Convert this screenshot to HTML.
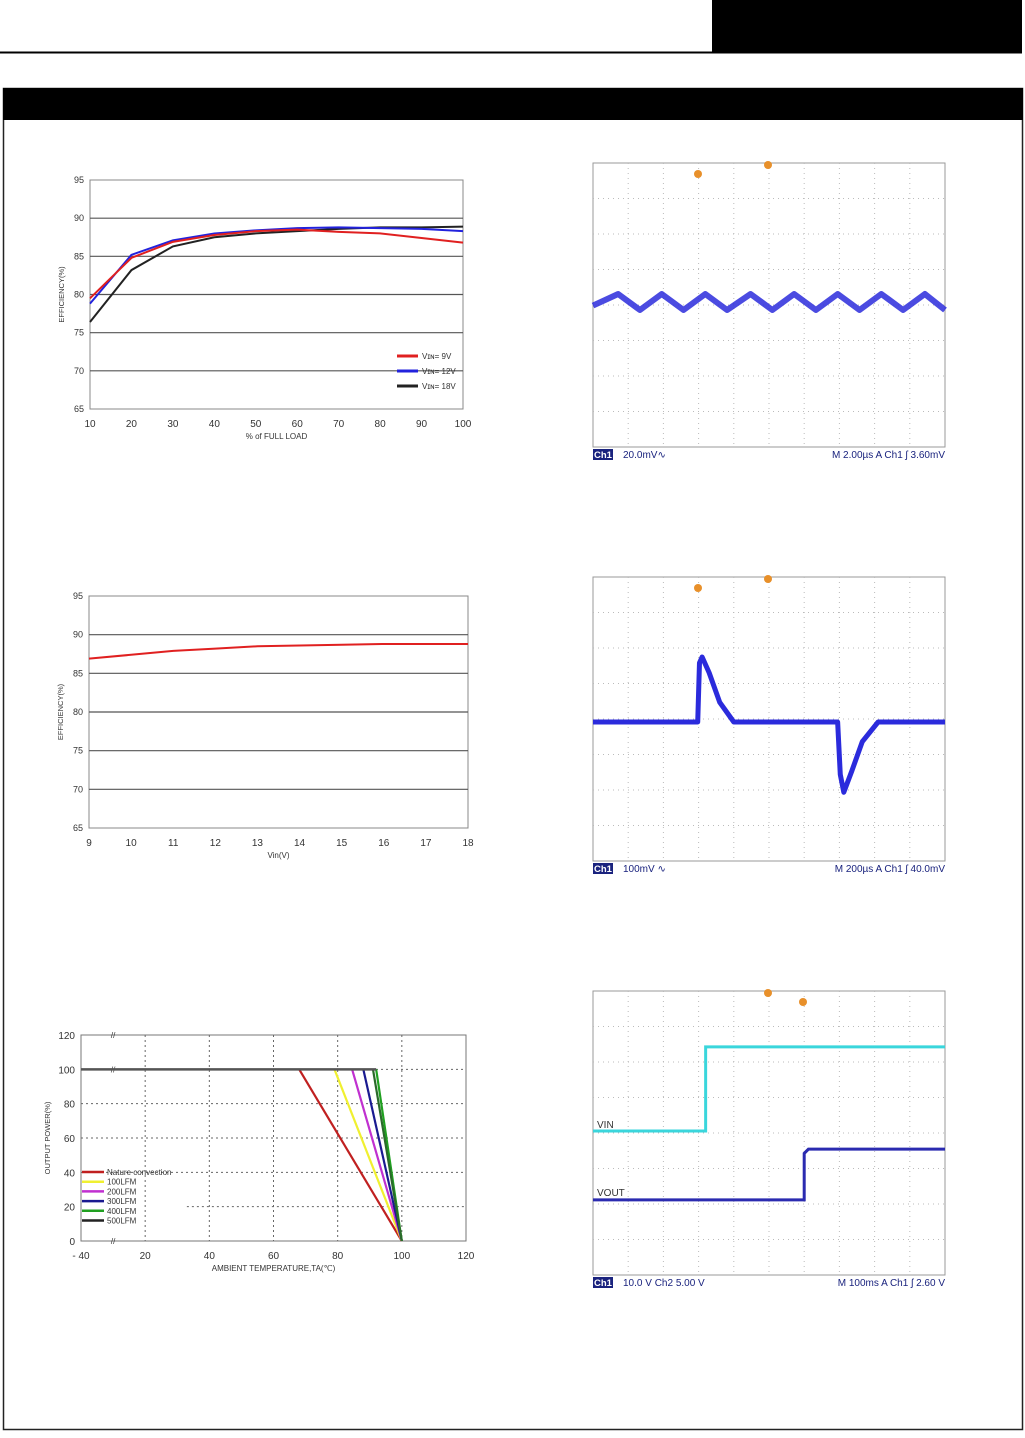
<!DOCTYPE html>
<html><head><meta charset="utf-8"><style>
html,body{margin:0;padding:0;background:#fff;}
body{width:1025px;height:1433px;overflow:hidden;position:relative;font-family:"Liberation Sans",sans-serif;}
svg text{font-family:"Liberation Sans",sans-serif;}
</style></head><body>
<svg id="pg" width="1025" height="1433" viewBox="0 0 1025 1433" xmlns="http://www.w3.org/2000/svg">
<rect x="712" y="0" width="310" height="52" fill="#000"/>
<line x1="0" y1="52.5" x2="1022" y2="52.5" stroke="#000" stroke-width="2"/>
<rect x="3.5" y="88.5" width="1019" height="1341" fill="none" stroke="#222" stroke-width="1.5"/>
<rect x="3" y="88" width="1020" height="32" fill="#000"/>
<g id="c1"></g>
<g id="c2"></g>
<g id="c3"></g>
<g id="s1"></g>
<g id="s2"></g>
<g id="s3"></g>
</svg>
<script>
// ---- chart data ----
const loadCats=[10,20,30,40,50,60,70,80,90,100];
const eff9V=[79.5,84.8,86.9,87.8,88.3,88.5,88.2,88.0,87.4,86.8];
const eff12V=[78.8,85.2,87.1,88.0,88.4,88.7,88.8,88.7,88.6,88.3];
const eff18V=[76.4,83.2,86.3,87.5,88.0,88.3,88.6,88.8,88.8,88.9];
const effTicks=[65,70,75,80,85,90,95];
const vinCats=[9,10,11,12,13,14,15,16,17,18];
const effVin=[86.9,87.4,87.9,88.2,88.5,88.6,88.7,88.8,88.8,88.8];
const derNames=["Nature convection","100LFM","200LFM","300LFM","400LFM","500LFM"];
const derKnee=[68,79,84.5,88,92,91];
const derEnd=[100,100,100,100,100,100];
const derTicksX=[0,20,40,60,80,100,120];
const derTickLabels=["- 40","20","40","60","80","100","120"];
const derTicksY=[0,20,40,60,80,100,120];
const rippleTimes=[0,1.5,2.8,4.1,5.4,6.7,8.0,9.4,10.7,12.0,13.3,14.6,15.9,17.2,18.5,19.8,21];
const rippleVals=[-4,9,-9,9,-9,9,-9,9,-9,9,-9,9,-9,9,-9,9,-9];
const transTimes=[0,595,605,620,660,720,800,1000,1390,1405,1425,1470,1530,1620,2000];
const transVals=[0,0,90,99,75,30,0,0,0,-80,-107,-75,-30,0,0];
const vinTimes=[0,320,320,1000];const vinVals=[2.28,2.28,4.65,4.65];
const voutTimes=[0,600,600,612,1000];const voutVals=[0.34,0.34,1.65,1.77,1.77];
const NS="http://www.w3.org/2000/svg";
function mk(p,t,a,txt){const e=document.createElementNS(NS,t);for(const k in a)e.setAttribute(k,a[k]);if(txt!=null)e.textContent=txt;p.appendChild(e);return e;}
function lin(d0,d1,r0,r1){return v=>r0+(v-d0)/(d1-d0)*(r1-r0);}
// ---- efficiency charts ----
function effChart(g,x0,x1,y0,y1,cats,series,colors,xlab){
  const X=lin(cats[0],cats[cats.length-1],x0,x1),Y=lin(65,95,y1,y0);
  let r=mk(g,'rect',{x:x0,y:y0,width:x1-x0,height:y1-y0,fill:'#fff',stroke:'#888','stroke-width':1});
  
  effTicks.forEach(t=>{if(t>65&&t<95){let l=mk(g,'line',{x1:x0,x2:x1,y1:Y(t),y2:Y(t),stroke:'#555','stroke-width':1.2});}
    let tx=mk(g,'text',{x:x0-6,y:Y(t)+3,'font-size':9,'text-anchor':'end',fill:'#333'},t);});
  cats.forEach(c=>{let tx=mk(g,'text',{x:X(c),y:y1+18,'font-size':10,'text-anchor':'middle',fill:'#333'},c);});
  let xl=mk(g,'text',{x:(x0+x1)/2,y:y1+30,'font-size':8,'text-anchor':'middle',fill:'#333'},xlab);
  let yl=mk(g,'text',{x:0,y:0,'font-size':7.5,'text-anchor':'middle',fill:'#333',transform:`translate(${x0-26},${(y0+y1)/2}) rotate(-90)`},'EFFICIENCY(%)');
  series.forEach((s,i)=>{let p=mk(g,'polyline',{points:s.map((v,j)=>X(cats[j])+','+Y(v)).join(' '),fill:'none',stroke:colors[i],'stroke-width':2});});
}
const g1=document.getElementById('c1');
effChart(g1,90,463,180,409,loadCats,[eff18V,eff12V,eff9V],['#222','#2222dd','#e02020'],'% of FULL LOAD');
[['V\u026a\u0274=  9V','#e02020',356],['V\u026a\u0274= 12V','#2222dd',371],['V\u026a\u0274= 18V','#222',386]].forEach(l=>{
  let a=mk(g1,'line',{x1:397,x2:418,y1:l[2],y2:l[2],stroke:l[1],'stroke-width':3});
  let t=mk(g1,'text',{x:422,y:l[2]+3,'font-size':8,fill:'#333'},l[0]);});
effChart(document.getElementById('c2'),89,468,596,828,vinCats,[effVin],['#e02020'],'Vin(V)');
// ---- derating ----
(function(){const g=document.getElementById('c3');const x0=81,x1=466,y0=1035,y1=1241;
  const X=lin(0,120,x0,x1),Y=lin(0,120,y1,y0);
  let r=mk(g,'rect',{x:x0,y:y0,width:x1-x0,height:y1-y0,fill:'#fff',stroke:'#777'});
  derTicksX.forEach((t,i)=>{if(t>0&&t<120){let l=mk(g,'line',{x1:X(t),x2:X(t),y1:y0,y2:y1,stroke:'#666','stroke-dasharray':'2,3'});}
    let tx=mk(g,'text',{x:X(t),y:y1+18,'font-size':10,'text-anchor':'middle',fill:'#333'},derTickLabels[i]);});
  derTicksY.forEach(t=>{if(t>0&&t<120){let l=mk(g,'line',{x1:t==20?X(33):x0,x2:x1,y1:Y(t),y2:Y(t),stroke:'#666','stroke-dasharray':'2,3'});}
    let tx=mk(g,'text',{x:x0-6,y:Y(t)+4,'font-size':10,'text-anchor':'end',fill:'#333'},t);});
  [0,100,120].forEach(t=>{let b=mk(g,'text',{x:X(10),y:Y(t)+3,'font-size':8,fill:'#333','text-anchor':'middle'},'//');});
  let xl=mk(g,'text',{x:(x0+x1)/2,y:y1+30,'font-size':8,'text-anchor':'middle',fill:'#333'},'AMBIENT TEMPERATURE,TA(\u2103)');
  let yl=mk(g,'text',{x:0,y:0,'font-size':7.5,'text-anchor':'middle',fill:'#333',transform:`translate(${x0-31},${(y0+y1)/2}) rotate(-90)`},'OUTPUT POWER(%)');
  const cols=['#c02020','#f0f030','#c030d0','#1a1a90','#20a020','#2a6a2a'];
  derKnee.forEach((k,i)=>{let p=mk(g,'polyline',{points:`${X(k)},${Y(100)} ${X(derEnd[i])},${Y(0)}`,fill:'none',stroke:cols[i],'stroke-width':2.2});});
  let h=mk(g,'line',{x1:x0,x2:X(92),y1:Y(100),y2:Y(100),stroke:'#555','stroke-width':2.5});
  derNames.forEach((n,i)=>{const yy=1172+i*9.7;let a=mk(g,'line',{x1:82,x2:104,y1:yy,y2:yy,stroke:i==5?'#222':cols[i],'stroke-width':2.5});
    let t=mk(g,'text',{x:107,y:yy+3,'font-size':8,fill:'#333'},n);});
})();
// ---- scopes ----
function scope(id,y0,left,right){const g=document.getElementById(id);const x0=593,x1=945,y1=y0+284;const dx=(x1-x0)/10,dy=(y1-y0)/8;
  let r=mk(g,'rect',{x:x0,y:y0,width:x1-x0,height:y1-y0,fill:'#fff',stroke:'#999'});
  for(let i=1;i<10;i++){let l=mk(g,'line',{x1:x0+i*dx,x2:x0+i*dx,y1:y0,y2:y1,stroke:'#bbb','stroke-dasharray':'1,4'});}
  for(let i=1;i<8;i++){let l=mk(g,'line',{x1:x0,x2:x1,y1:y0+i*dy,y2:y0+i*dy,stroke:'#bbb','stroke-dasharray':'1,4'});}
  let fb=mk(g,'rect',{x:593,y:y1+2,width:20,height:11,fill:'#1a237e'});
  let ft=mk(g,'text',{x:594,y:y1+11,'font-size':9.5,fill:'#fff','font-weight':'bold'},'Ch1');
  let fl=mk(g,'text',{x:623,y:y1+11,'font-size':10,fill:'#1a237e','font-family':'Liberation Mono','xml:space':'preserve'},left);
  let fo=mk(g,'text',{x:945,y:y1+11,'font-size':10,'text-anchor':'end',fill:'#1a237e','font-family':'Liberation Mono','xml:space':'preserve'},right);
  return {g,x0,x1,y0,y1,dx,dy};}
function marker(g,x,y){let c=mk(g,'circle',{cx:x,cy:y,r:4,fill:'#e8902a'});}
// ripple
(function(){const s=scope('s1',163,'20.0mV\u223f','M 2.00\u00b5s  A  Ch1 \u0283  3.60mV');marker(s.g,698,174);marker(s.g,768,165);
  const X=lin(0,21,s.x0,s.x1),Y=lin(0,40,302,302-s.dy);
  let p=mk(s.g,'polyline',{points:rippleTimes.map((t,i)=>X(t)+','+Y(rippleVals[i])).join(' '),fill:'none',stroke:'#2b2bdc','stroke-width':6,'stroke-linejoin':'round',opacity:.85});})();
// transient
(function(){const s=scope('s2',577,'100mV \u223f','M 200\u00b5s  A  Ch1 \u0283  40.0mV');marker(s.g,698,588);marker(s.g,768,579);
  const X=lin(0,2000,s.x0,s.x1),Y=lin(0,100,722,722-s.dy*1.85);
  let p=mk(s.g,'polyline',{points:transTimes.map((t,i)=>X(t)+','+Y(transVals[i])).join(' '),fill:'none',stroke:'#2b2bdc','stroke-width':5,'stroke-linejoin':'round'});})();
// startup
(function(){const s=scope('s3',991,'10.0 V  Ch2  5.00 V','M 100ms  A  Ch1 \u0283  2.60 V');marker(s.g,803,1002);marker(s.g,768,993);
  const X=lin(0,1000,s.x0,s.x1),Y=lin(0,1,1212,1212-s.dy);
  let a=mk(s.g,'polyline',{points:vinTimes.map((t,i)=>X(t)+','+Y(vinVals[i])).join(' '),fill:'none',stroke:'#3ad6dc','stroke-width':3});
  let b=mk(s.g,'polyline',{points:voutTimes.map((t,i)=>X(t)+','+Y(voutVals[i])).join(' '),fill:'none',stroke:'#2b2bb0','stroke-width':3});
  let t1=mk(s.g,'text',{x:597,y:1128,'font-size':10,fill:'#333'},'VIN');
  let t2=mk(s.g,'text',{x:597,y:1196,'font-size':10,fill:'#333'},'VOUT');})();
</script>
</body></html>
